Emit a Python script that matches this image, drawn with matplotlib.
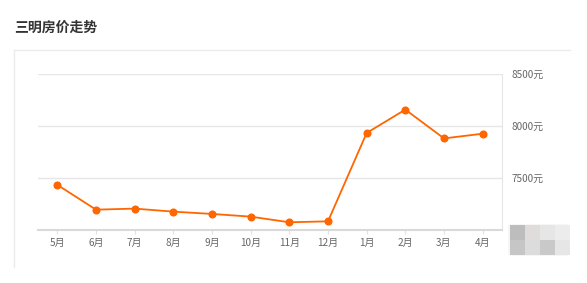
import matplotlib
matplotlib.use("Agg")
import matplotlib.pyplot as plt
from matplotlib.patches import Rectangle, FancyBboxPatch
from matplotlib.lines import Line2D

plt.rcParams['font.family'] = ['Noto Sans CJK SC', 'DejaVu Sans']

months = ['5月', '6月', '7月', '8月', '9月', '10月', '11月', '12月', '1月', '2月', '3月', '4月']
prices = [7433, 7195, 7205, 7176, 7154, 7128, 7074, 7083, 7930, 8154, 7878, 7923]
y_ticks = [7000, 7500, 8000, 8500]
y_labels = ['', '7500元', '8000元', '8500元']
title = '三明房价走势'

W, H = 587, 283
fig = plt.figure(figsize=(W / 100, H / 100), dpi=100)

def fx(px):
    return px / W

def fy(py):
    return 1 - py / H

# title and card outline
fig.text(fx(14), fy(28), title, fontsize=10, fontweight='bold', color='#333333', va='center', ha='left')
fig.add_artist(Line2D([fx(14), fx(570)], [fy(50), fy(50)], color='#ebebeb', lw=1.0))
fig.add_artist(Line2D([fx(14), fx(14)], [fy(50), fy(267)], color='#ebebeb', lw=1.0))

ax = fig.add_axes([fx(38), fy(230), fx(502) - fx(38), fy(73.5) - fy(230)])
x = list(range(len(months)))
ax.plot(x, prices, color='#ff6600', lw=1.3, marker='o', markersize=4.8, zorder=3, clip_on=False)

ax.set_xlim(-0.5, len(months) - 0.5)
ax.set_ylim(y_ticks[0], y_ticks[-1])
ax.set_xticks(x)
ax.set_xticklabels(months)
ax.set_yticks(y_ticks)
ax.set_yticklabels(y_labels)
ax.yaxis.tick_right()
ax.grid(axis='y', color='#e6e6e6', lw=1)
ax.set_axisbelow(True)

for s in ['top', 'left']:
    ax.spines[s].set_visible(False)
ax.spines['right'].set_color('#e6e6e6')
ax.spines['bottom'].set_color('#d9d9d9')
ax.spines['bottom'].set_linewidth(1.5)
ax.tick_params(axis='x', length=3, color='#e0e0e0', labelsize=7.2, labelcolor='#666666', pad=3)
ax.tick_params(axis='y', length=0, labelsize=7.2, labelcolor='#666666', pad=7)

# pixelated watermark in the lower right corner
wm = [['#bdbdbd', '#e0dcdc', '#e6e6e6', '#ececec'],
      ['#c6c6c6', '#dcdcdc', '#c9c9c9', '#e6e6e6']]
fig.add_artist(FancyBboxPatch((fx(508), fy(256)), fx(62), fy(224) - fy(256),
                              boxstyle='round,pad=0,rounding_size=0.01', color='#f6f6f6', lw=0))
for r, row in enumerate(wm):
    for c, col in enumerate(row):
        x0 = 510 + c * 15
        y0 = 225 + r * 15
        fig.add_artist(Rectangle((fx(x0), fy(y0 + 15)), fx(15), fy(y0) - fy(y0 + 15), color=col, lw=0))

fig.savefig('out.png', dpi=100)
